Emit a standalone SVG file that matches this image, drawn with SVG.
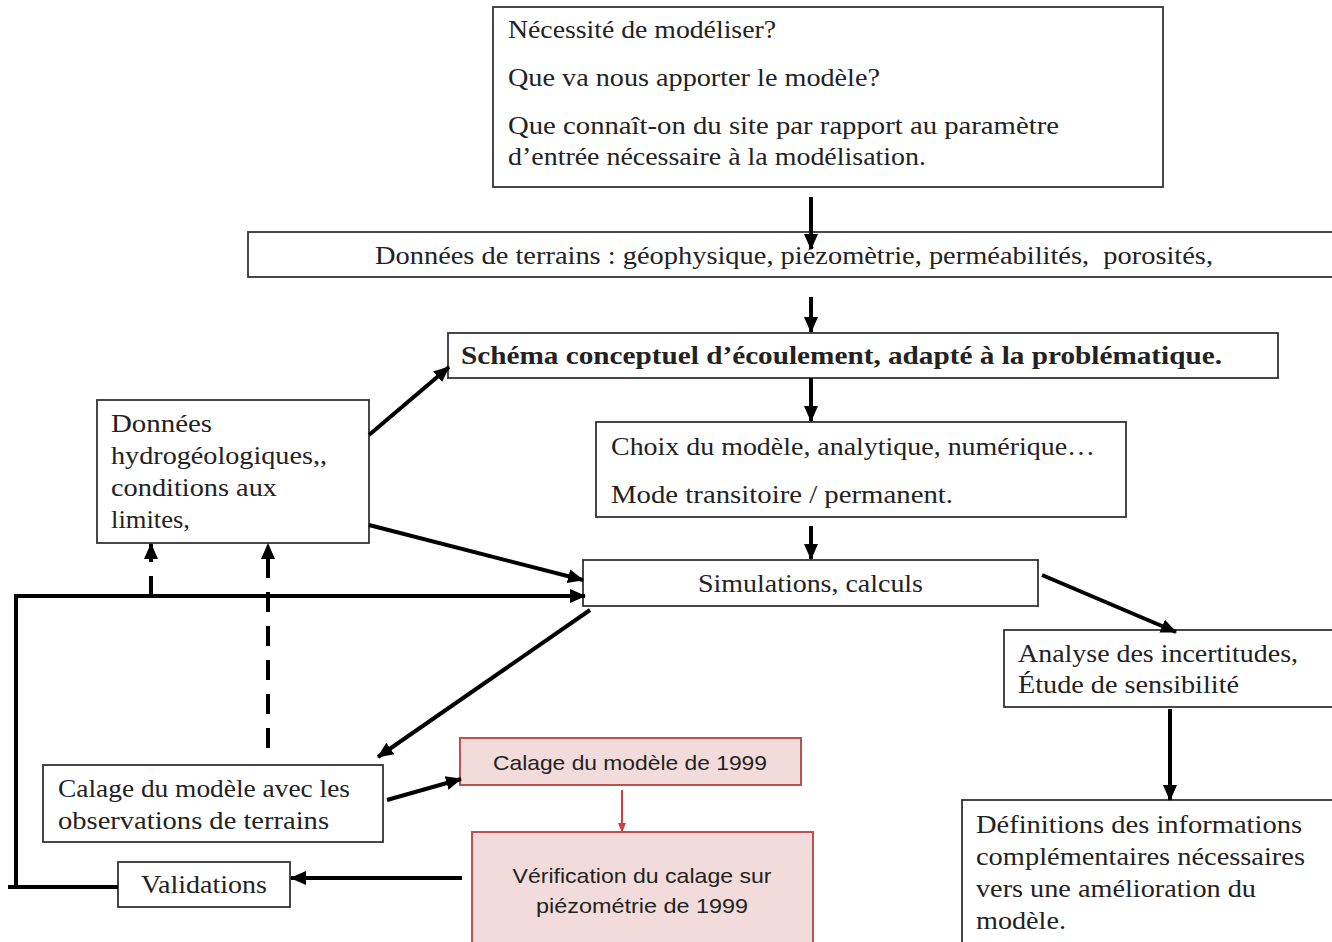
<svg xmlns="http://www.w3.org/2000/svg" width="1332" height="942" viewBox="0 0 1332 942">
<defs>
<style>
.box{fill:#fff;stroke:#333;stroke-width:1.8}
.red{fill:#f2dcdb;stroke:#c0504d;stroke-width:2}
.t{font-family:"Liberation Serif","Times New Roman",serif;font-size:25px;fill:#222}
.tb{font-family:"Liberation Serif","Times New Roman",serif;font-size:25px;font-weight:bold;fill:#222}
.s{font-family:"Liberation Sans",Arial,sans-serif;font-size:21px;fill:#222}
.c{stroke:#000;stroke-width:4;fill:none}
.d{stroke:#000;stroke-width:4;fill:none;stroke-dasharray:20,14}
.r{stroke:#d04040;stroke-width:2;fill:none}
</style>
<marker id="ah" markerUnits="userSpaceOnUse" markerWidth="16" markerHeight="16" refX="15" refY="8" orient="auto" viewBox="0 0 16 16"><path d="M0,1 L16,8 L0,15 z" fill="#000"/></marker>
<marker id="ahr" markerUnits="userSpaceOnUse" markerWidth="10" markerHeight="10" refX="9" refY="5" orient="auto" viewBox="0 0 10 10"><path d="M0,1 L10,5 L0,9 z" fill="#d04040"/></marker>
</defs>
<rect width="1332" height="942" fill="#fff"/>

<g id="n-top">
<rect class="box" x="493" y="7" width="670" height="180"/>
<text class="t" x="508" y="38" textLength="268" lengthAdjust="spacingAndGlyphs">Nécessité de modéliser?</text>
<text class="t" x="508" y="86" textLength="372" lengthAdjust="spacingAndGlyphs">Que va nous apporter le modèle?</text>
<text class="t" x="508" y="134" textLength="551" lengthAdjust="spacingAndGlyphs">Que connaît-on du site par rapport au paramètre</text>
<text class="t" x="508" y="165" textLength="418" lengthAdjust="spacingAndGlyphs">d’entrée nécessaire à la modélisation.</text>
</g>

<g id="n-terrain">
<rect class="box" x="248" y="232" width="1090" height="45"/>
<text class="t" x="375" y="264" textLength="838" lengthAdjust="spacingAndGlyphs" xml:space="preserve">Données de terrains : géophysique, piézomètrie, perméabilités,  porosités,</text>
</g>

<g id="n-schema">
<rect class="box" x="448" y="333" width="830" height="45"/>
<text class="tb" x="461" y="364" textLength="761" lengthAdjust="spacingAndGlyphs">Schéma conceptuel d’écoulement, adapté à la problématique.</text>
</g>

<g id="n-choix">
<rect class="box" x="596" y="422" width="530" height="95"/>
<text class="t" x="611" y="455" textLength="484" lengthAdjust="spacingAndGlyphs">Choix du modèle, analytique, numérique…</text>
<text class="t" x="611" y="503" textLength="342" lengthAdjust="spacingAndGlyphs">Mode transitoire / permanent.</text>
</g>

<g id="n-hydro">
<rect class="box" x="97" y="400" width="272" height="143"/>
<text class="t" x="111" y="432" textLength="101" lengthAdjust="spacingAndGlyphs">Données</text>
<text class="t" x="111" y="464" textLength="216" lengthAdjust="spacingAndGlyphs">hydrogéologiques,,</text>
<text class="t" x="111" y="496" textLength="166" lengthAdjust="spacingAndGlyphs">conditions aux</text>
<text class="t" x="111" y="528" textLength="79" lengthAdjust="spacingAndGlyphs">limites,</text>
</g>

<g id="n-simul">
<rect class="box" x="583" y="560" width="455" height="46"/>
<text class="t" x="698" y="592" textLength="225" lengthAdjust="spacingAndGlyphs">Simulations, calculs</text>
</g>

<g id="n-analyse">
<rect class="box" x="1004" y="630" width="334" height="77"/>
<text class="t" x="1018" y="662" textLength="280" lengthAdjust="spacingAndGlyphs">Analyse des incertitudes,</text>
<text class="t" x="1018" y="693" textLength="221" lengthAdjust="spacingAndGlyphs">Étude de sensibilité</text>
</g>

<g id="n-definitions">
<rect class="box" x="962" y="800" width="376" height="150"/>
<text class="t" x="976" y="833" textLength="326" lengthAdjust="spacingAndGlyphs">Définitions des informations</text>
<text class="t" x="976" y="865" textLength="329" lengthAdjust="spacingAndGlyphs">complémentaires nécessaires</text>
<text class="t" x="976" y="897" textLength="280" lengthAdjust="spacingAndGlyphs">vers une amélioration du</text>
<text class="t" x="976" y="929" textLength="90" lengthAdjust="spacingAndGlyphs">modèle.</text>
</g>

<g id="n-calage">
<rect class="box" x="43" y="765" width="340" height="77"/>
<text class="t" x="58" y="797" textLength="292" lengthAdjust="spacingAndGlyphs">Calage du modèle avec les</text>
<text class="t" x="58" y="829" textLength="271" lengthAdjust="spacingAndGlyphs">observations de terrains</text>
</g>

<g id="n-calage1999">
<rect class="red" x="460" y="738" width="341" height="47"/>
<text class="s" x="630" y="770" text-anchor="middle" textLength="274" lengthAdjust="spacingAndGlyphs">Calage du modèle de 1999</text>
</g>

<g id="n-verif">
<rect class="red" x="472" y="832" width="341" height="120"/>
<text class="s" x="642" y="883" text-anchor="middle" textLength="259" lengthAdjust="spacingAndGlyphs">Vérification du calage sur</text>
<text class="s" x="642" y="913" text-anchor="middle" textLength="212" lengthAdjust="spacingAndGlyphs">piézométrie de 1999</text>
</g>

<g id="n-valid">
<rect class="box" x="118" y="862" width="172" height="45"/>
<text class="t" x="141" y="893" textLength="126" lengthAdjust="spacingAndGlyphs">Validations</text>
</g>

<g id="connectors">
<line class="c" x1="811" y1="197" x2="811" y2="249" marker-end="url(#ah)"/>
<line class="c" x1="811" y1="297" x2="811" y2="332" marker-end="url(#ah)"/>
<line class="c" x1="811" y1="378" x2="811" y2="421" marker-end="url(#ah)"/>
<line class="c" x1="811" y1="526" x2="811" y2="559" marker-end="url(#ah)"/>
<line class="c" x1="369" y1="435" x2="449" y2="367" marker-end="url(#ah)"/>
<line class="c" x1="369" y1="525" x2="583" y2="580" marker-end="url(#ah)"/>
<polyline class="c" points="118,887 16,887 16,596 585,596" marker-end="url(#ah)"/>
<line class="c" x1="8" y1="887" x2="16" y2="887"/>
<line class="d" x1="151" y1="596" x2="151" y2="544" marker-end="url(#ah)" stroke-dasharray="16,10"/>
<line class="d" x1="268" y1="748" x2="268" y2="544" marker-end="url(#ah)"/>
<line class="c" x1="590" y1="610" x2="378" y2="757" marker-end="url(#ah)"/>
<line class="c" x1="387" y1="800" x2="461" y2="779" marker-end="url(#ah)"/>
<line class="r" x1="622" y1="790" x2="622" y2="832" marker-end="url(#ahr)"/>
<line class="c" x1="462" y1="878" x2="291" y2="878" marker-end="url(#ah)"/>
<line class="c" x1="1042" y1="575" x2="1176" y2="632" marker-end="url(#ah)"/>
<line class="c" x1="1170" y1="709" x2="1170" y2="800" marker-end="url(#ah)"/>
</g>
</svg>
